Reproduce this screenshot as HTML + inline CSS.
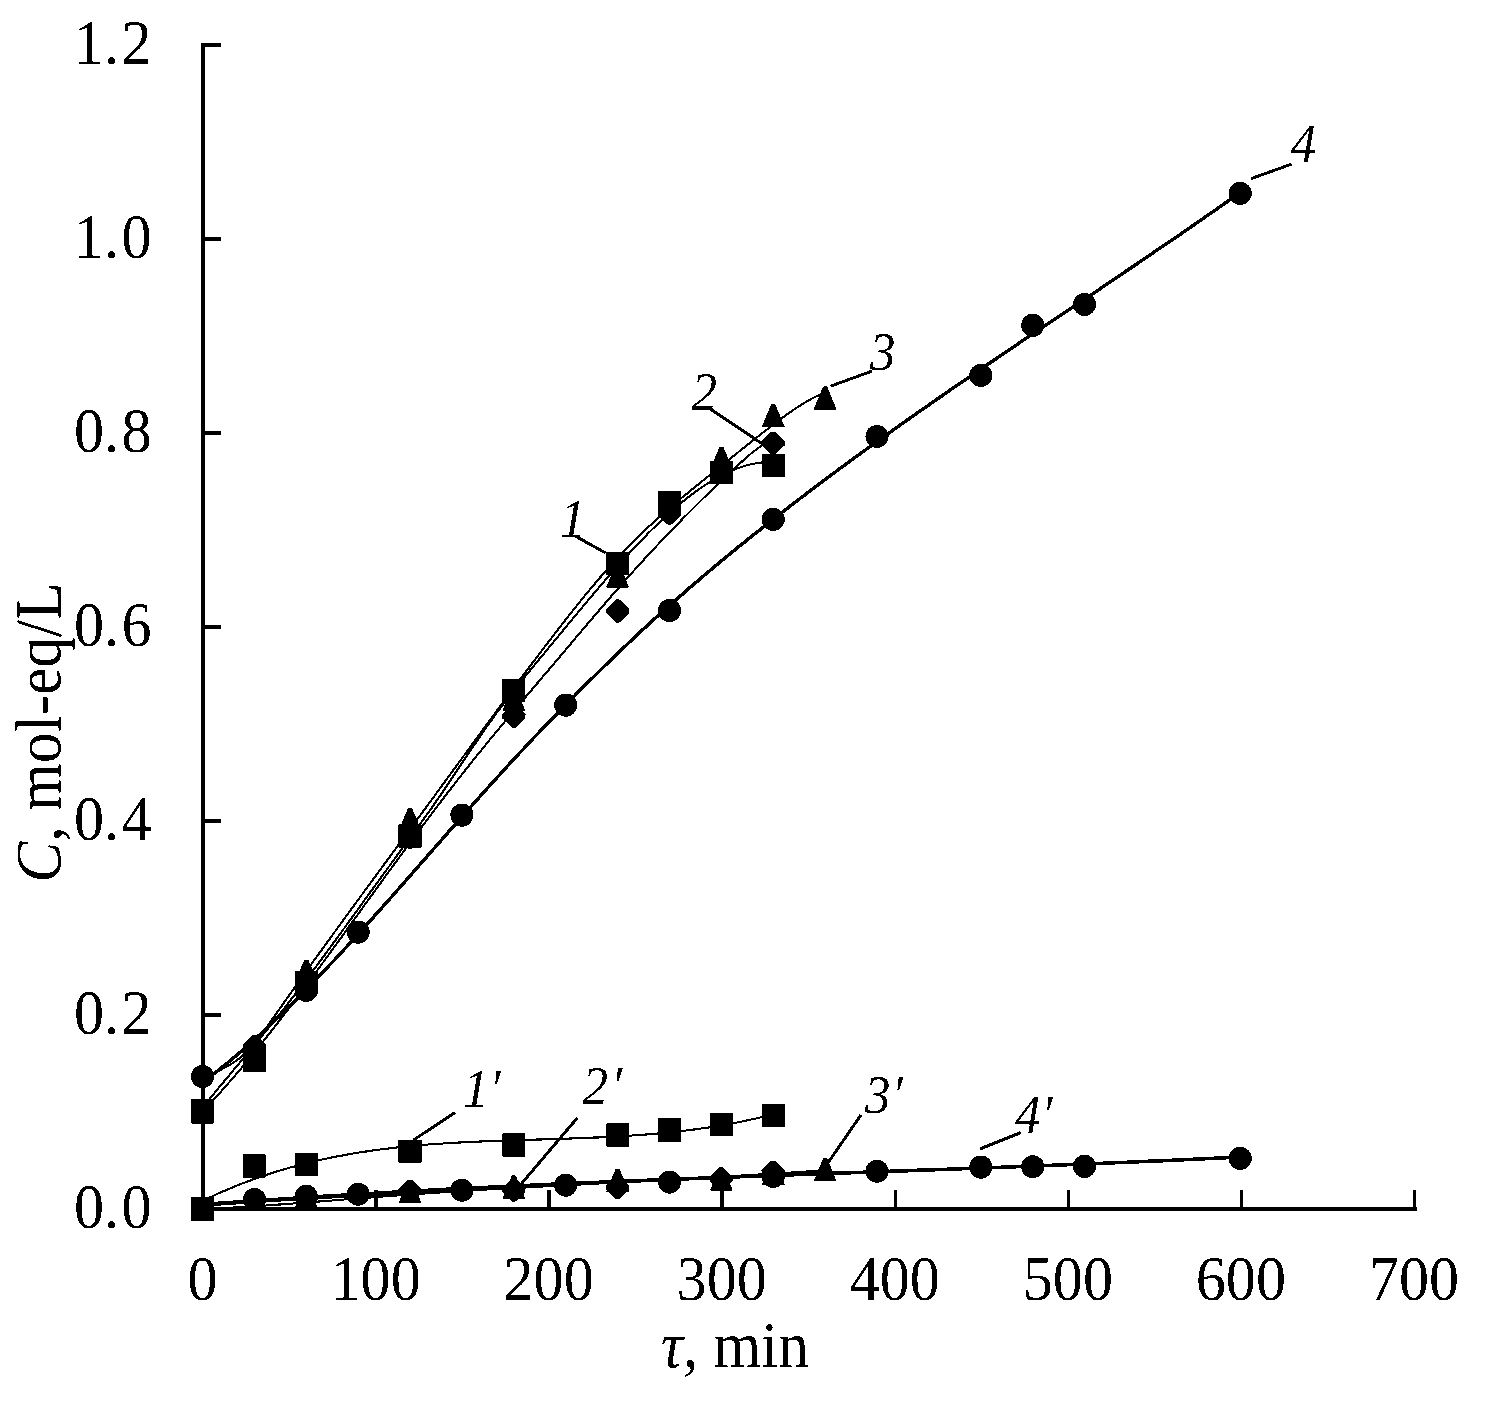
<!DOCTYPE html>
<html><head><meta charset="utf-8"><style>html,body{margin:0;padding:0;background:#fff}svg{display:block}</style></head>
<body><svg width="1485" height="1403" viewBox="0 0 1485 1403">
<defs><filter id="th" x="0" y="0" width="1485" height="1403" filterUnits="userSpaceOnUse"><feComponentTransfer><feFuncA type="discrete" tableValues="0 1"/></feComponentTransfer></filter></defs>
<rect width="1485" height="1403" fill="#fff"/>
<g filter="url(#th)">
<g stroke="#000" stroke-width="4" fill="none" shape-rendering="crispEdges">
<path d="M203 43 V1211 M201 1209 H1416.5"/>
</g>
<g stroke="#000" stroke-width="3.6" fill="none" shape-rendering="crispEdges">
<path d="M203 1209.0 H221"/>
<path d="M203 1015.0 H221"/>
<path d="M203 821.0 H221"/>
<path d="M203 627.0 H221"/>
<path d="M203 433.0 H221"/>
<path d="M203 239.0 H221"/>
<path d="M203 45.0 H221"/>
<path d="M376.1 1209 V1190"/>
<path d="M549.1 1209 V1190"/>
<path d="M722.2 1209 V1190"/>
<path d="M895.3 1209 V1190"/>
<path d="M1068.4 1209 V1190"/>
<path d="M1241.4 1209 V1190"/>
<path d="M1414.5 1209 V1190"/>
</g>
<g stroke="#000" fill="none" stroke-linejoin="round">
<path d="M203.0 1082.0 L206.0 1079.8 L209.0 1077.5 L212.0 1075.2 L215.0 1072.9 L218.0 1070.5 L221.0 1068.1 L224.0 1065.7 L227.0 1063.2 L230.0 1060.8 L233.0 1058.3 L236.0 1055.7 L239.0 1053.2 L242.0 1050.6 L245.0 1047.9 L248.0 1045.3 L251.0 1042.6 L254.0 1039.9 L257.0 1037.2 L260.0 1034.5 L263.0 1031.7 L266.0 1028.9 L269.0 1026.1 L272.0 1023.3 L275.0 1020.4 L278.0 1017.5 L281.0 1014.6 L284.0 1011.7 L287.0 1008.8 L290.0 1005.8 L293.0 1002.8 L296.0 999.8 L299.0 996.8 L302.0 993.8 L305.0 990.7 L308.0 987.6 L311.0 984.6 L314.0 981.4 L317.0 978.3 L320.0 975.2 L323.0 972.0 L326.0 968.9 L329.0 965.7 L332.0 962.5 L335.0 959.3 L338.0 956.0 L341.0 952.8 L344.0 949.6 L347.0 946.3 L350.0 943.0 L353.0 939.7 L356.0 936.5 L359.0 933.2 L362.0 929.8 L365.0 926.5 L368.0 923.2 L371.0 919.8 L374.0 916.5 L377.0 913.1 L380.0 909.8 L383.0 906.4 L386.0 903.0 L389.0 899.6 L392.0 896.3 L395.0 892.9 L398.0 889.5 L401.0 886.1 L404.0 882.7 L407.0 879.3 L410.0 875.8 L413.0 872.4 L416.0 869.0 L419.0 865.6 L422.0 862.2 L425.0 858.8 L428.0 855.3 L431.0 851.9 L434.0 848.5 L437.0 845.1 L440.0 841.7 L443.0 838.3 L446.0 834.8 L449.0 831.4 L452.0 828.0 L455.0 824.6 L458.0 821.2 L461.0 817.8 L464.0 814.4 L467.0 811.1 L470.0 807.7 L473.0 804.3 L476.0 800.9 L479.0 797.6 L482.0 794.2 L485.0 790.9 L488.0 787.5 L491.0 784.2 L494.0 780.9 L497.0 777.6 L500.0 774.3 L503.0 771.0 L506.0 767.7 L509.0 764.5 L512.0 761.2 L515.0 758.0 L518.0 754.7 L521.0 751.5 L524.0 748.3 L527.0 745.1 L530.0 741.9 L533.0 738.7 L536.0 735.6 L539.0 732.4 L542.0 729.3 L545.0 726.1 L548.0 723.0 L551.0 719.9 L554.0 716.8 L557.0 713.7 L560.0 710.6 L563.0 707.5 L566.0 704.5 L569.0 701.4 L572.0 698.4 L575.0 695.4 L578.0 692.3 L581.0 689.3 L584.0 686.3 L587.0 683.3 L590.0 680.3 L593.0 677.4 L596.0 674.4 L599.0 671.5 L602.0 668.5 L605.0 665.6 L608.0 662.7 L611.0 659.8 L614.0 656.9 L617.0 654.0 L620.0 651.1 L623.0 648.3 L626.0 645.4 L629.0 642.6 L632.0 639.8 L635.0 636.9 L638.0 634.1 L641.0 631.3 L644.0 628.6 L647.0 625.8 L650.0 623.1 L653.0 620.3 L656.0 617.6 L659.0 614.9 L662.0 612.2 L665.0 609.5 L668.0 606.8 L671.0 604.1 L674.0 601.5 L677.0 598.8 L680.0 596.2 L683.0 593.6 L686.0 591.0 L689.0 588.4 L692.0 585.8 L695.0 583.2 L698.0 580.6 L701.0 578.1 L704.0 575.5 L707.0 573.0 L710.0 570.5 L713.0 567.9 L716.0 565.4 L719.0 562.9 L722.0 560.4 L725.0 558.0 L728.0 555.5 L731.0 553.0 L734.0 550.6 L737.0 548.1 L740.0 545.7 L743.0 543.3 L746.0 540.9 L749.0 538.4 L752.0 536.0 L755.0 533.6 L758.0 531.3 L761.0 528.9 L764.0 526.5 L767.0 524.1 L770.0 521.8 L773.0 519.4 L776.0 517.1 L779.0 514.7 L782.0 512.4 L785.0 510.1 L788.0 507.8 L791.0 505.4 L794.0 503.1 L797.0 500.8 L800.0 498.5 L803.0 496.3 L806.0 494.0 L809.0 491.7 L812.0 489.4 L815.0 487.2 L818.0 484.9 L821.0 482.6 L824.0 480.4 L827.0 478.2 L830.0 475.9 L833.0 473.7 L836.0 471.5 L839.0 469.2 L842.0 467.0 L845.0 464.8 L848.0 462.6 L851.0 460.4 L854.0 458.2 L857.0 456.0 L860.0 453.9 L863.0 451.7 L866.0 449.5 L869.0 447.3 L872.0 445.2 L875.0 443.0 L878.0 440.8 L881.0 438.7 L884.0 436.5 L887.0 434.4 L890.0 432.3 L893.0 430.1 L896.0 428.0 L899.0 425.9 L902.0 423.7 L905.0 421.6 L908.0 419.5 L911.0 417.4 L914.0 415.3 L917.0 413.2 L920.0 411.1 L923.0 409.0 L926.0 406.9 L929.0 404.8 L932.0 402.7 L935.0 400.6 L938.0 398.5 L941.0 396.5 L944.0 394.4 L947.0 392.3 L950.0 390.2 L953.0 388.2 L956.0 386.1 L959.0 384.0 L962.0 382.0 L965.0 379.9 L968.0 377.9 L971.0 375.8 L974.0 373.8 L977.0 371.7 L980.0 369.7 L983.0 367.6 L986.0 365.6 L989.0 363.5 L992.0 361.5 L995.0 359.5 L998.0 357.4 L1001.0 355.4 L1004.0 353.4 L1007.0 351.3 L1010.0 349.3 L1013.0 347.3 L1016.0 345.3 L1019.0 343.2 L1022.0 341.2 L1025.0 339.2 L1028.0 337.2 L1031.0 335.1 L1034.0 333.1 L1037.0 331.1 L1040.0 329.1 L1043.0 327.1 L1046.0 325.0 L1049.0 323.0 L1052.0 321.0 L1055.0 319.0 L1058.0 317.0 L1061.0 315.0 L1064.0 313.0 L1067.0 310.9 L1070.0 308.9 L1073.0 306.9 L1076.0 304.9 L1079.0 302.9 L1082.0 300.9 L1085.0 298.8 L1088.0 296.8 L1091.0 294.8 L1094.0 292.8 L1097.0 290.8 L1100.0 288.8 L1103.0 286.7 L1106.0 284.7 L1109.0 282.7 L1112.0 280.7 L1115.0 278.7 L1118.0 276.6 L1121.0 274.6 L1124.0 272.6 L1127.0 270.5 L1130.0 268.5 L1133.0 266.5 L1136.0 264.5 L1139.0 262.4 L1142.0 260.4 L1145.0 258.4 L1148.0 256.3 L1151.0 254.3 L1154.0 252.2 L1157.0 250.2 L1160.0 248.1 L1163.0 246.1 L1166.0 244.0 L1169.0 242.0 L1172.0 239.9 L1175.0 237.9 L1178.0 235.8 L1181.0 233.8 L1184.0 231.7 L1187.0 229.6 L1190.0 227.6 L1193.0 225.5 L1196.0 223.4 L1199.0 221.3 L1202.0 219.3 L1205.0 217.2 L1208.0 215.1 L1211.0 213.0 L1214.0 210.9 L1217.0 208.8 L1220.0 206.7 L1223.0 204.6 L1226.0 202.5 L1229.0 200.4 L1232.0 198.3 L1235.0 196.1 L1238.0 194.0 L1241.0 191.9" stroke-width="3.4"/>
<path d="M203.0 1107.0 L206.0 1103.3 L209.0 1099.6 L212.0 1096.0 L215.0 1092.3 L218.0 1088.7 L221.0 1085.1 L224.0 1081.5 L227.0 1077.9 L230.0 1074.3 L233.0 1070.7 L236.0 1067.2 L239.0 1063.6 L242.0 1060.0 L245.0 1056.4 L248.0 1052.8 L251.0 1049.2 L254.0 1045.6 L257.0 1042.0 L260.0 1038.3 L263.0 1034.7 L266.0 1031.0 L269.0 1027.3 L272.0 1023.6 L275.0 1019.9 L278.0 1016.1 L281.0 1012.4 L284.0 1008.6 L287.0 1004.7 L290.0 1000.9 L293.0 997.0 L296.0 993.1 L299.0 989.2 L302.0 985.2 L305.0 981.3 L308.0 977.3 L311.0 973.3 L314.0 969.3 L317.0 965.3 L320.0 961.2 L323.0 957.2 L326.0 953.1 L329.0 949.0 L332.0 944.9 L335.0 940.8 L338.0 936.7 L341.0 932.6 L344.0 928.5 L347.0 924.4 L350.0 920.2 L353.0 916.1 L356.0 912.0 L359.0 907.8 L362.0 903.7 L365.0 899.5 L368.0 895.4 L371.0 891.2 L374.0 887.1 L377.0 883.0 L380.0 878.8 L383.0 874.7 L386.0 870.6 L389.0 866.5 L392.0 862.4 L395.0 858.3 L398.0 854.2 L401.0 850.1 L404.0 846.0 L407.0 841.9 L410.0 837.9 L413.0 833.8 L416.0 829.6 L419.0 825.5 L422.0 821.4 L425.0 817.2 L428.0 813.0 L431.0 808.8 L434.0 804.5 L437.0 800.2 L440.0 795.8 L443.0 791.4 L446.0 787.0 L449.0 782.6 L452.0 778.1 L455.0 773.6 L458.0 769.1 L461.0 764.6 L464.0 760.1 L467.0 755.6 L470.0 751.1 L473.0 746.7 L476.0 742.3 L479.0 737.9 L482.0 733.5 L485.0 729.2 L488.0 725.0 L491.0 720.8 L494.0 716.6 L497.0 712.5 L500.0 708.5 L503.0 704.5 L506.0 700.6 L509.0 696.7 L512.0 692.9 L515.0 689.1 L518.0 685.3 L521.0 681.5 L524.0 677.8 L527.0 674.1 L530.0 670.5 L533.0 666.8 L536.0 663.2 L539.0 659.5 L542.0 655.9 L545.0 652.3 L548.0 648.7 L551.0 645.0 L554.0 641.4 L557.0 637.8 L560.0 634.1 L563.0 630.5 L566.0 626.8 L569.0 623.2 L572.0 619.6 L575.0 616.0 L578.0 612.4 L581.0 608.8 L584.0 605.2 L587.0 601.6 L590.0 598.0 L593.0 594.5 L596.0 590.9 L599.0 587.4 L602.0 583.9 L605.0 580.4 L608.0 577.0 L611.0 573.6 L614.0 570.1 L617.0 566.8 L620.0 563.4 L623.0 560.1 L626.0 556.8 L629.0 553.5 L632.0 550.3 L635.0 547.1 L638.0 543.9 L641.0 540.7 L644.0 537.7 L647.0 534.6 L650.0 531.6 L653.0 528.6 L656.0 525.7 L659.0 522.8 L662.0 519.9 L665.0 517.1 L668.0 514.4 L671.0 511.7 L674.0 509.0 L677.0 506.4 L680.0 503.9 L683.0 501.4 L686.0 499.0 L689.0 496.6 L692.0 494.3 L695.0 492.1 L698.0 489.9 L701.0 487.8 L704.0 485.8 L707.0 483.8 L710.0 481.9 L713.0 480.1 L716.0 478.3 L719.0 476.7 L722.0 475.1 L725.0 473.6 L728.0 472.2 L731.0 470.8 L734.0 469.6 L737.0 468.4 L740.0 467.4 L743.0 466.4 L746.0 465.5 L749.0 464.7 L752.0 464.0 L755.0 463.5 L758.0 463.0 L761.0 462.6 L764.0 462.3 L767.0 462.1 L770.0 462.1 L772.0 462.1" stroke-width="2.1"/>
<path d="M203.0 1111.0 L206.0 1107.9 L209.0 1104.7 L212.0 1101.5 L215.0 1098.2 L218.0 1094.9 L221.0 1091.6 L224.0 1088.2 L227.0 1084.8 L230.0 1081.4 L233.0 1077.9 L236.0 1074.4 L239.0 1070.9 L242.0 1067.3 L245.0 1063.7 L248.0 1060.1 L251.0 1056.4 L254.0 1052.8 L257.0 1049.1 L260.0 1045.3 L263.0 1041.6 L266.0 1037.8 L269.0 1034.0 L272.0 1030.2 L275.0 1026.3 L278.0 1022.5 L281.0 1018.6 L284.0 1014.7 L287.0 1010.8 L290.0 1006.8 L293.0 1002.9 L296.0 998.9 L299.0 994.9 L302.0 990.9 L305.0 986.9 L308.0 982.8 L311.0 978.8 L314.0 974.7 L317.0 970.7 L320.0 966.6 L323.0 962.5 L326.0 958.4 L329.0 954.3 L332.0 950.2 L335.0 946.0 L338.0 941.9 L341.0 937.8 L344.0 933.6 L347.0 929.5 L350.0 925.3 L353.0 921.2 L356.0 917.0 L359.0 912.9 L362.0 908.7 L365.0 904.5 L368.0 900.4 L371.0 896.2 L374.0 892.1 L377.0 887.9 L380.0 883.8 L383.0 879.7 L386.0 875.5 L389.0 871.4 L392.0 867.3 L395.0 863.2 L398.0 859.1 L401.0 855.0 L404.0 850.9 L407.0 846.8 L410.0 842.7 L413.0 838.7 L416.0 834.7 L419.0 830.6 L422.0 826.6 L425.0 822.6 L428.0 818.6 L431.0 814.6 L434.0 810.6 L437.0 806.7 L440.0 802.8 L443.0 798.8 L446.0 794.9 L449.0 791.0 L452.0 787.1 L455.0 783.3 L458.0 779.4 L461.0 775.6 L464.0 771.8 L467.0 768.0 L470.0 764.2 L473.0 760.4 L476.0 756.7 L479.0 753.0 L482.0 749.3 L485.0 745.6 L488.0 741.9 L491.0 738.2 L494.0 734.6 L497.0 731.0 L500.0 727.4 L503.0 723.8 L506.0 720.2 L509.0 716.6 L512.0 713.1 L515.0 709.5 L518.0 706.0 L521.0 702.4 L524.0 698.9 L527.0 695.4 L530.0 691.8 L533.0 688.3 L536.0 684.8 L539.0 681.3 L542.0 677.7 L545.0 674.2 L548.0 670.7 L551.0 667.1 L554.0 663.6 L557.0 660.0 L560.0 656.5 L563.0 652.9 L566.0 649.4 L569.0 645.8 L572.0 642.3 L575.0 638.7 L578.0 635.2 L581.0 631.6 L584.0 628.1 L587.0 624.5 L590.0 621.0 L593.0 617.5 L596.0 614.0 L599.0 610.5 L602.0 607.0 L605.0 603.5 L608.0 600.0 L611.0 596.5 L614.0 593.1 L617.0 589.7 L620.0 586.2 L623.0 582.8 L626.0 579.4 L629.0 576.1 L632.0 572.7 L635.0 569.4 L638.0 566.1 L641.0 562.8 L644.0 559.5 L647.0 556.2 L650.0 553.0 L653.0 549.8 L656.0 546.6 L659.0 543.4 L662.0 540.2 L665.0 537.1 L668.0 533.9 L671.0 530.8 L674.0 527.7 L677.0 524.7 L680.0 521.6 L683.0 518.5 L686.0 515.5 L689.0 512.5 L692.0 509.5 L695.0 506.5 L698.0 503.5 L701.0 500.6 L704.0 497.6 L707.0 494.7 L710.0 491.8 L713.0 488.9 L716.0 486.0 L719.0 483.1 L722.0 480.2 L725.0 477.4 L728.0 474.5 L731.0 471.7 L734.0 468.9 L737.0 466.1 L740.0 463.3 L743.0 460.6 L746.0 457.9 L749.0 455.3 L752.0 452.8 L755.0 450.5 L758.0 448.2 L761.0 446.1 L764.0 444.2 L767.0 442.4 L770.0 440.9" stroke-width="2.1"/>
<path d="M203.0 1079.0 L206.0 1077.2 L209.0 1075.6 L212.0 1074.1 L215.0 1072.6 L218.0 1071.1 L221.0 1069.6 L224.0 1068.1 L227.0 1066.5 L230.0 1064.8 L233.0 1062.9 L236.0 1060.9 L239.0 1058.7 L242.0 1056.2 L245.0 1053.4 L248.0 1050.4 L251.0 1047.1 L254.0 1043.6 L257.0 1040.0 L260.0 1036.1 L263.0 1032.2 L266.0 1028.1 L269.0 1023.9 L272.0 1019.7 L275.0 1015.4 L278.0 1011.1 L281.0 1006.9 L284.0 1002.6 L287.0 998.4 L290.0 994.1 L293.0 989.9 L296.0 985.7 L299.0 981.5 L302.0 977.3 L305.0 973.1 L308.0 968.9 L311.0 964.7 L314.0 960.5 L317.0 956.4 L320.0 952.2 L323.0 948.1 L326.0 943.9 L329.0 939.8 L332.0 935.6 L335.0 931.5 L338.0 927.4 L341.0 923.3 L344.0 919.2 L347.0 915.0 L350.0 910.9 L353.0 906.8 L356.0 902.7 L359.0 898.6 L362.0 894.5 L365.0 890.4 L368.0 886.4 L371.0 882.3 L374.0 878.2 L377.0 874.1 L380.0 870.0 L383.0 865.9 L386.0 861.9 L389.0 857.8 L392.0 853.7 L395.0 849.6 L398.0 845.5 L401.0 841.5 L404.0 837.4 L407.0 833.3 L410.0 829.2 L413.0 825.2 L416.0 821.1 L419.0 817.0 L422.0 812.9 L425.0 808.8 L428.0 804.7 L431.0 800.6 L434.0 796.5 L437.0 792.4 L440.0 788.3 L443.0 784.2 L446.0 780.1 L449.0 776.0 L452.0 771.9 L455.0 767.8 L458.0 763.7 L461.0 759.6 L464.0 755.5 L467.0 751.4 L470.0 747.3 L473.0 743.2 L476.0 739.1 L479.0 735.0 L482.0 730.9 L485.0 726.8 L488.0 722.7 L491.0 718.7 L494.0 714.6 L497.0 710.5 L500.0 706.5 L503.0 702.4 L506.0 698.3 L509.0 694.3 L512.0 690.3 L515.0 686.2 L518.0 682.2 L521.0 678.2 L524.0 674.2 L527.0 670.2 L530.0 666.2 L533.0 662.2 L536.0 658.3 L539.0 654.3 L542.0 650.3 L545.0 646.4 L548.0 642.5 L551.0 638.6 L554.0 634.7 L557.0 630.8 L560.0 626.9 L563.0 623.1 L566.0 619.2 L569.0 615.4 L572.0 611.6 L575.0 607.9 L578.0 604.1 L581.0 600.4 L584.0 596.7 L587.0 593.1 L590.0 589.4 L593.0 585.8 L596.0 582.3 L599.0 578.8 L602.0 575.3 L605.0 571.8 L608.0 568.4 L611.0 565.0 L614.0 561.7 L617.0 558.5 L620.0 555.2 L623.0 552.0 L626.0 548.9 L629.0 545.8 L632.0 542.8 L635.0 539.8 L638.0 536.9 L641.0 534.0 L644.0 531.1 L647.0 528.3 L650.0 525.5 L653.0 522.7 L656.0 520.0 L659.0 517.3 L662.0 514.7 L665.0 512.1 L668.0 509.5 L671.0 506.9 L674.0 504.4 L677.0 501.8 L680.0 499.3 L683.0 496.8 L686.0 494.4 L689.0 491.9 L692.0 489.4 L695.0 487.0 L698.0 484.6 L701.0 482.1 L704.0 479.7 L707.0 477.3 L710.0 474.9 L713.0 472.5 L716.0 470.0 L719.0 467.6 L722.0 465.2 L725.0 462.8 L728.0 460.4 L731.0 458.0 L734.0 455.6 L737.0 453.2 L740.0 450.8 L743.0 448.4 L746.0 446.0 L749.0 443.6 L752.0 441.2 L755.0 438.9 L758.0 436.5 L761.0 434.2 L764.0 431.8 L767.0 429.5 L770.0 427.2 L773.0 424.9 L776.0 422.6 L779.0 420.3 L782.0 418.1 L785.0 415.9 L788.0 413.7 L791.0 411.6 L794.0 409.5 L797.0 407.5 L800.0 405.6 L803.0 403.7 L806.0 401.9 L809.0 400.2 L812.0 398.6 L815.0 397.0 L818.0 395.6 L821.0 394.2 L822.8 393.5" stroke-width="2.1"/>
<path d="M203.0 1200.7 L206.0 1199.2 L209.0 1197.8 L212.0 1196.4 L215.0 1195.0 L218.0 1193.6 L221.0 1192.3 L224.0 1191.0 L227.0 1189.7 L230.0 1188.4 L233.0 1187.2 L236.0 1185.9 L239.0 1184.7 L242.0 1183.6 L245.0 1182.4 L248.0 1181.3 L251.0 1180.2 L254.0 1179.1 L257.0 1178.0 L260.0 1176.9 L263.0 1175.9 L266.0 1174.9 L269.0 1173.9 L272.0 1173.0 L275.0 1172.0 L278.0 1171.1 L281.0 1170.2 L284.0 1169.3 L287.0 1168.4 L290.0 1167.5 L293.0 1166.7 L296.0 1165.9 L299.0 1165.1 L302.0 1164.3 L305.0 1163.5 L308.0 1162.8 L311.0 1162.1 L314.0 1161.4 L317.0 1160.7 L320.0 1160.0 L323.0 1159.3 L326.0 1158.7 L329.0 1158.0 L332.0 1157.4 L335.0 1156.8 L338.0 1156.2 L341.0 1155.7 L344.0 1155.1 L347.0 1154.6 L350.0 1154.0 L353.0 1153.5 L356.0 1153.0 L359.0 1152.5 L362.0 1152.1 L365.0 1151.6 L368.0 1151.1 L371.0 1150.7 L374.0 1150.3 L377.0 1149.9 L380.0 1149.5 L383.0 1149.1 L386.0 1148.7 L389.0 1148.4 L392.0 1148.0 L395.0 1147.7 L398.0 1147.3 L401.0 1147.0 L404.0 1146.7 L407.0 1146.4 L410.0 1146.1 L413.0 1145.8 L416.0 1145.5 L419.0 1145.3 L422.0 1145.0 L425.0 1144.8 L428.0 1144.5 L431.0 1144.3 L434.0 1144.1 L437.0 1143.9 L440.0 1143.7 L443.0 1143.5 L446.0 1143.3 L449.0 1143.1 L452.0 1142.9 L455.0 1142.7 L458.0 1142.5 L461.0 1142.4 L464.0 1142.2 L467.0 1142.1 L470.0 1141.9 L473.0 1141.8 L476.0 1141.7 L479.0 1141.5 L482.0 1141.4 L485.0 1141.3 L488.0 1141.2 L491.0 1141.0 L494.0 1140.9 L497.0 1140.8 L500.0 1140.7 L503.0 1140.6 L506.0 1140.5 L509.0 1140.4 L512.0 1140.3 L515.0 1140.2 L518.0 1140.1 L521.0 1140.0 L524.0 1139.9 L527.0 1139.8 L530.0 1139.8 L533.0 1139.7 L536.0 1139.6 L539.0 1139.5 L542.0 1139.4 L545.0 1139.3 L548.0 1139.2 L551.0 1139.1 L554.0 1139.0 L557.0 1138.9 L560.0 1138.9 L563.0 1138.8 L566.0 1138.7 L569.0 1138.6 L572.0 1138.5 L575.0 1138.3 L578.0 1138.2 L581.0 1138.1 L584.0 1138.0 L587.0 1137.9 L590.0 1137.8 L593.0 1137.6 L596.0 1137.5 L599.0 1137.4 L602.0 1137.2 L605.0 1137.1 L608.0 1136.9 L611.0 1136.8 L614.0 1136.6 L617.0 1136.5 L620.0 1136.3 L623.0 1136.1 L626.0 1135.9 L629.0 1135.7 L632.0 1135.5 L635.0 1135.3 L638.0 1135.1 L641.0 1134.9 L644.0 1134.7 L647.0 1134.4 L650.0 1134.2 L653.0 1133.9 L656.0 1133.7 L659.0 1133.4 L662.0 1133.1 L665.0 1132.8 L668.0 1132.5 L671.0 1132.2 L674.0 1131.9 L677.0 1131.6 L680.0 1131.2 L683.0 1130.9 L686.0 1130.5 L689.0 1130.1 L692.0 1129.8 L695.0 1129.4 L698.0 1129.0 L701.0 1128.5 L704.0 1128.1 L707.0 1127.7 L710.0 1127.2 L713.0 1126.7 L716.0 1126.3 L719.0 1125.8 L722.0 1125.2 L725.0 1124.7 L728.0 1124.2 L731.0 1123.6 L734.0 1123.1 L737.0 1122.5 L740.0 1121.9 L743.0 1121.3 L746.0 1120.6 L749.0 1120.0 L752.0 1119.3 L755.0 1118.7 L758.0 1118.0 L761.0 1117.3 L764.0 1116.5 L767.0 1115.8 L770.0 1115.0 L773.0 1114.3" stroke-width="2.1"/>
<path d="M203.0 1204.5 L206.0 1204.2 L209.0 1204.0 L212.0 1203.8 L215.0 1203.6 L218.0 1203.3 L221.0 1203.1 L224.0 1202.9 L227.0 1202.7 L230.0 1202.5 L233.0 1202.3 L236.0 1202.0 L239.0 1201.8 L242.0 1201.6 L245.0 1201.4 L248.0 1201.2 L251.0 1201.0 L254.0 1200.8 L257.0 1200.6 L260.0 1200.4 L263.0 1200.2 L266.0 1200.0 L269.0 1199.8 L272.0 1199.6 L275.0 1199.4 L278.0 1199.2 L281.0 1199.0 L284.0 1198.8 L287.0 1198.6 L290.0 1198.4 L293.0 1198.2 L296.0 1198.0 L299.0 1197.8 L302.0 1197.6 L305.0 1197.4 L308.0 1197.2 L311.0 1197.0 L314.0 1196.8 L317.0 1196.6 L320.0 1196.5 L323.0 1196.3 L326.0 1196.1 L329.0 1195.9 L332.0 1195.7 L335.0 1195.5 L338.0 1195.4 L341.0 1195.2 L344.0 1195.0 L347.0 1194.8 L350.0 1194.6 L353.0 1194.5 L356.0 1194.3 L359.0 1194.1 L362.0 1193.9 L365.0 1193.8 L368.0 1193.6 L371.0 1193.4 L374.0 1193.2 L377.0 1193.1 L380.0 1192.9 L383.0 1192.7 L386.0 1192.6 L389.0 1192.4 L392.0 1192.2 L395.0 1192.1 L398.0 1191.9 L401.0 1191.7 L404.0 1191.6 L407.0 1191.4 L410.0 1191.2 L413.0 1191.1 L416.0 1190.9 L419.0 1190.8 L422.0 1190.6 L425.0 1190.4 L428.0 1190.3 L431.0 1190.1 L434.0 1190.0 L437.0 1189.8 L440.0 1189.6 L443.0 1189.5 L446.0 1189.3 L449.0 1189.2 L452.0 1189.0 L455.0 1188.9 L458.0 1188.7 L461.0 1188.6 L464.0 1188.4 L467.0 1188.3 L470.0 1188.1 L473.0 1188.0 L476.0 1187.8 L479.0 1187.7 L482.0 1187.5 L485.0 1187.4 L488.0 1187.2 L491.0 1187.1 L494.0 1187.0 L497.0 1186.8 L500.0 1186.7 L503.0 1186.5 L506.0 1186.4 L509.0 1186.2 L512.0 1186.1 L515.0 1186.0 L518.0 1185.8 L521.0 1185.7 L524.0 1185.5 L527.0 1185.4 L530.0 1185.3 L533.0 1185.1 L536.0 1185.0 L539.0 1184.9 L542.0 1184.7 L545.0 1184.6 L548.0 1184.5 L551.0 1184.3 L554.0 1184.2 L557.0 1184.1 L560.0 1183.9 L563.0 1183.8 L566.0 1183.7 L569.0 1183.5 L572.0 1183.4 L575.0 1183.3 L578.0 1183.1 L581.0 1183.0 L584.0 1182.9 L587.0 1182.8 L590.0 1182.6 L593.0 1182.5 L596.0 1182.4 L599.0 1182.3 L602.0 1182.1 L605.0 1182.0 L608.0 1181.9 L611.0 1181.8 L614.0 1181.6 L617.0 1181.5 L620.0 1181.4 L623.0 1181.3 L626.0 1181.1 L629.0 1181.0 L632.0 1180.9 L635.0 1180.8 L638.0 1180.7 L641.0 1180.5 L644.0 1180.4 L647.0 1180.3 L650.0 1180.2 L653.0 1180.1 L656.0 1179.9 L659.0 1179.8 L662.0 1179.7 L665.0 1179.6 L668.0 1179.5 L671.0 1179.3 L674.0 1179.2 L677.0 1179.1 L680.0 1179.0 L683.0 1178.9 L686.0 1178.8 L689.0 1178.7 L692.0 1178.5 L695.0 1178.4 L698.0 1178.3 L701.0 1178.2 L704.0 1178.1 L707.0 1178.0 L710.0 1177.9 L713.0 1177.7 L716.0 1177.6 L719.0 1177.5 L722.0 1177.4 L725.0 1177.3 L728.0 1177.2 L731.0 1177.1 L734.0 1176.9 L737.0 1176.8 L740.0 1176.7 L743.0 1176.6 L746.0 1176.5 L749.0 1176.4 L752.0 1176.3 L755.0 1176.2 L758.0 1176.1 L761.0 1176.0 L764.0 1175.8 L767.0 1175.7 L770.0 1175.6 L773.0 1175.5 L776.0 1175.4 L779.0 1175.3 L782.0 1175.2 L785.0 1175.1 L788.0 1175.0 L791.0 1174.9 L794.0 1174.8 L797.0 1174.6 L800.0 1174.5 L803.0 1174.4 L806.0 1174.3 L809.0 1174.2 L812.0 1174.1 L815.0 1174.0 L818.0 1173.9 L821.0 1173.8 L824.0 1173.7 L827.0 1173.6 L830.0 1173.5 L833.0 1173.3 L836.0 1173.2 L839.0 1173.1 L842.0 1173.0 L845.0 1172.9 L848.0 1172.8 L851.0 1172.7 L854.0 1172.6 L857.0 1172.5 L860.0 1172.4 L863.0 1172.3 L866.0 1172.2 L869.0 1172.1 L872.0 1171.9 L875.0 1171.8 L878.0 1171.7 L881.0 1171.6 L884.0 1171.5 L887.0 1171.4 L890.0 1171.3 L893.0 1171.2 L896.0 1171.1 L899.0 1171.0 L902.0 1170.9 L905.0 1170.8 L908.0 1170.7 L911.0 1170.5 L914.0 1170.4 L917.0 1170.3 L920.0 1170.2 L923.0 1170.1 L926.0 1170.0 L929.0 1169.9 L932.0 1169.8 L935.0 1169.7 L938.0 1169.6 L941.0 1169.5 L944.0 1169.4 L947.0 1169.2 L950.0 1169.1 L953.0 1169.0 L956.0 1168.9 L959.0 1168.8 L962.0 1168.7 L965.0 1168.6 L968.0 1168.5 L971.0 1168.4 L974.0 1168.2 L977.0 1168.1 L980.0 1168.0 L983.0 1167.9 L986.0 1167.8 L989.0 1167.7 L992.0 1167.6 L995.0 1167.5 L998.0 1167.4 L1001.0 1167.2 L1004.0 1167.1 L1007.0 1167.0 L1010.0 1166.9 L1013.0 1166.8 L1016.0 1166.7 L1019.0 1166.6 L1022.0 1166.4 L1025.0 1166.3 L1028.0 1166.2 L1031.0 1166.1 L1034.0 1166.0 L1037.0 1165.9 L1040.0 1165.8 L1043.0 1165.6 L1046.0 1165.5 L1049.0 1165.4 L1052.0 1165.3 L1055.0 1165.2 L1058.0 1165.0 L1061.0 1164.9 L1064.0 1164.8 L1067.0 1164.7 L1070.0 1164.6 L1073.0 1164.5 L1076.0 1164.3 L1079.0 1164.2 L1082.0 1164.1 L1085.0 1164.0 L1088.0 1163.8 L1091.0 1163.7 L1094.0 1163.6 L1097.0 1163.5 L1100.0 1163.4 L1103.0 1163.2 L1106.0 1163.1 L1109.0 1163.0 L1112.0 1162.9 L1115.0 1162.7 L1118.0 1162.6 L1121.0 1162.5 L1124.0 1162.4 L1127.0 1162.2 L1130.0 1162.1 L1133.0 1162.0 L1136.0 1161.8 L1139.0 1161.7 L1142.0 1161.6 L1145.0 1161.5 L1148.0 1161.3 L1151.0 1161.2 L1154.0 1161.1 L1157.0 1160.9 L1160.0 1160.8 L1163.0 1160.7 L1166.0 1160.5 L1169.0 1160.4 L1172.0 1160.3 L1175.0 1160.1 L1178.0 1160.0 L1181.0 1159.9 L1184.0 1159.7 L1187.0 1159.6 L1190.0 1159.5 L1193.0 1159.3 L1196.0 1159.2 L1199.0 1159.0 L1202.0 1158.9 L1205.0 1158.8 L1208.0 1158.6 L1211.0 1158.5 L1214.0 1158.3 L1217.0 1158.2 L1220.0 1158.1 L1223.0 1157.9 L1226.0 1157.8 L1229.0 1157.6 L1232.0 1157.5 L1235.0 1157.3 L1238.0 1157.2 L1241.0 1157.0" stroke-width="3.4"/>
<path d="M203.0 1205.7 L206.0 1205.5 L209.0 1205.3 L212.0 1205.0 L215.0 1204.8 L218.0 1204.6 L221.0 1204.4 L224.0 1204.2 L227.0 1204.0 L230.0 1203.8 L233.0 1203.6 L236.0 1203.4 L239.0 1203.2 L242.0 1203.0 L245.0 1202.8 L248.0 1202.6 L251.0 1202.4 L254.0 1202.2 L257.0 1202.0 L260.0 1201.8 L263.0 1201.6 L266.0 1201.4 L269.0 1201.2 L272.0 1201.0 L275.0 1200.8 L278.0 1200.6 L281.0 1200.5 L284.0 1200.3 L287.0 1200.1 L290.0 1199.9 L293.0 1199.7 L296.0 1199.5 L299.0 1199.3 L302.0 1199.2 L305.0 1199.0 L308.0 1198.8 L311.0 1198.6 L314.0 1198.4 L317.0 1198.3 L320.0 1198.1 L323.0 1197.9 L326.0 1197.7 L329.0 1197.6 L332.0 1197.4 L335.0 1197.2 L338.0 1197.0 L341.0 1196.9 L344.0 1196.7 L347.0 1196.5 L350.0 1196.4 L353.0 1196.2 L356.0 1196.0 L359.0 1195.9 L362.0 1195.7 L365.0 1195.5 L368.0 1195.4 L371.0 1195.2 L374.0 1195.0 L377.0 1194.9 L380.0 1194.7 L383.0 1194.5 L386.0 1194.4 L389.0 1194.2 L392.0 1194.1 L395.0 1193.9 L398.0 1193.7 L401.0 1193.6 L404.0 1193.4 L407.0 1193.3 L410.0 1193.1 L413.0 1192.9 L416.0 1192.8 L419.0 1192.6 L422.0 1192.5 L425.0 1192.3 L428.0 1192.2 L431.0 1192.0 L434.0 1191.8 L437.0 1191.7 L440.0 1191.5 L443.0 1191.4 L446.0 1191.2 L449.0 1191.1 L452.0 1190.9 L455.0 1190.8 L458.0 1190.6 L461.0 1190.5 L464.0 1190.3 L467.0 1190.2 L470.0 1190.0 L473.0 1189.9 L476.0 1189.7 L479.0 1189.6 L482.0 1189.4 L485.0 1189.2 L488.0 1189.1 L491.0 1188.9 L494.0 1188.8 L497.0 1188.6 L500.0 1188.5 L503.0 1188.3 L506.0 1188.2 L509.0 1188.0 L512.0 1187.9 L515.0 1187.7 L518.0 1187.6 L521.0 1187.4 L524.0 1187.3 L527.0 1187.1 L530.0 1187.0 L533.0 1186.8 L536.0 1186.7 L539.0 1186.5 L542.0 1186.4 L545.0 1186.2 L548.0 1186.1 L551.0 1185.9 L554.0 1185.8 L557.0 1185.6 L560.0 1185.5 L563.0 1185.3 L566.0 1185.2 L569.0 1185.0 L572.0 1184.9 L575.0 1184.7 L578.0 1184.6 L581.0 1184.4 L584.0 1184.3 L587.0 1184.1 L590.0 1184.0 L593.0 1183.8 L596.0 1183.7 L599.0 1183.5 L602.0 1183.3 L605.0 1183.2 L608.0 1183.0 L611.0 1182.9 L614.0 1182.7 L617.0 1182.6 L620.0 1182.4 L623.0 1182.3 L626.0 1182.1 L629.0 1181.9 L632.0 1181.8 L635.0 1181.6 L638.0 1181.5 L641.0 1181.3 L644.0 1181.2 L647.0 1181.0 L650.0 1180.8 L653.0 1180.7 L656.0 1180.5 L659.0 1180.3 L662.0 1180.2 L665.0 1180.0 L668.0 1179.9 L671.0 1179.7 L674.0 1179.5 L677.0 1179.4 L680.0 1179.2 L683.0 1179.0 L686.0 1178.9 L689.0 1178.7 L692.0 1178.5 L695.0 1178.4 L698.0 1178.2 L701.0 1178.0 L704.0 1177.8 L707.0 1177.7 L710.0 1177.5 L713.0 1177.3 L716.0 1177.2 L719.0 1177.0 L722.0 1176.8 L725.0 1176.6 L728.0 1176.4 L731.0 1176.3 L734.0 1176.1 L737.0 1175.9 L740.0 1175.7 L743.0 1175.5 L746.0 1175.4 L749.0 1175.2 L752.0 1175.0 L755.0 1174.8 L758.0 1174.6 L761.0 1174.4 L764.0 1174.3 L767.0 1174.1 L770.0 1173.9 L773.0 1173.7 L776.0 1173.5 L779.0 1173.3 L782.0 1173.1 L785.0 1172.9 L788.0 1172.7 L791.0 1172.5 L794.0 1172.3 L797.0 1172.1 L800.0 1171.9 L803.0 1171.7 L806.0 1171.5 L809.0 1171.3 L812.0 1171.1 L815.0 1170.9 L818.0 1170.7 L821.0 1170.5 L824.0 1170.3 L826.0 1170.1" stroke-width="2.1"/>
<path d="M203.0 1209.3 L206.0 1209.1 L209.0 1209.0 L212.0 1208.8 L215.0 1208.7 L218.0 1208.5 L221.0 1208.3 L224.0 1208.2 L227.0 1208.0 L230.0 1207.8 L233.0 1207.6 L236.0 1207.4 L239.0 1207.3 L242.0 1207.1 L245.0 1206.9 L248.0 1206.7 L251.0 1206.5 L254.0 1206.3 L257.0 1206.1 L260.0 1205.9 L263.0 1205.7 L266.0 1205.5 L269.0 1205.2 L272.0 1205.0 L275.0 1204.8 L278.0 1204.6 L281.0 1204.4 L284.0 1204.2 L287.0 1203.9 L290.0 1203.7 L293.0 1203.5 L296.0 1203.3 L299.0 1203.0 L302.0 1202.8 L305.0 1202.6 L308.0 1202.4 L311.0 1202.1 L314.0 1201.9 L317.0 1201.7 L320.0 1201.4 L323.0 1201.2 L326.0 1200.9 L329.0 1200.7 L332.0 1200.5 L335.0 1200.2 L338.0 1200.0 L341.0 1199.8 L344.0 1199.5 L347.0 1199.3 L350.0 1199.1 L353.0 1198.8 L356.0 1198.6 L359.0 1198.3 L362.0 1198.1 L365.0 1197.9 L368.0 1197.6 L371.0 1197.4 L374.0 1197.2 L377.0 1196.9 L380.0 1196.7 L383.0 1196.5 L386.0 1196.3 L389.0 1196.0 L392.0 1195.8 L395.0 1195.6 L398.0 1195.3 L401.0 1195.1 L404.0 1194.9 L407.0 1194.7 L410.0 1194.5 L413.0 1194.2 L416.0 1194.0 L419.0 1193.8 L422.0 1193.6 L425.0 1193.4 L428.0 1193.2 L431.0 1193.0 L434.0 1192.8 L437.0 1192.6 L440.0 1192.4 L443.0 1192.2 L446.0 1192.0 L449.0 1191.8 L452.0 1191.6 L455.0 1191.4 L458.0 1191.2 L461.0 1191.0 L464.0 1190.8 L467.0 1190.6 L470.0 1190.4 L473.0 1190.2 L476.0 1190.0 L479.0 1189.8 L482.0 1189.6 L485.0 1189.4 L488.0 1189.3 L491.0 1189.1 L494.0 1188.9 L497.0 1188.7 L500.0 1188.5 L503.0 1188.3 L506.0 1188.2 L509.0 1188.0 L512.0 1187.8 L515.0 1187.6 L518.0 1187.5 L521.0 1187.3 L524.0 1187.1 L527.0 1186.9 L530.0 1186.8 L533.0 1186.6 L536.0 1186.4 L539.0 1186.3 L542.0 1186.1 L545.0 1185.9 L548.0 1185.8 L551.0 1185.6 L554.0 1185.4 L557.0 1185.3 L560.0 1185.1 L563.0 1184.9 L566.0 1184.8 L569.0 1184.6 L572.0 1184.4 L575.0 1184.3 L578.0 1184.1 L581.0 1184.0 L584.0 1183.8 L587.0 1183.6 L590.0 1183.5 L593.0 1183.3 L596.0 1183.2 L599.0 1183.0 L602.0 1182.9 L605.0 1182.7 L608.0 1182.5 L611.0 1182.4 L614.0 1182.2 L617.0 1182.1 L620.0 1181.9 L623.0 1181.8 L626.0 1181.6 L629.0 1181.5 L632.0 1181.3 L635.0 1181.2 L638.0 1181.0 L641.0 1180.9 L644.0 1180.7 L647.0 1180.6 L650.0 1180.4 L653.0 1180.3 L656.0 1180.1 L659.0 1180.0 L662.0 1179.8 L665.0 1179.7 L668.0 1179.5 L671.0 1179.4 L674.0 1179.2 L677.0 1179.1 L680.0 1178.9 L683.0 1178.8 L686.0 1178.6 L689.0 1178.5 L692.0 1178.3 L695.0 1178.2 L698.0 1178.0 L701.0 1177.9 L704.0 1177.7 L707.0 1177.6 L710.0 1177.4 L713.0 1177.3 L716.0 1177.1 L719.0 1177.0 L722.0 1176.8 L725.0 1176.7 L728.0 1176.5 L731.0 1176.4 L734.0 1176.2 L737.0 1176.1 L740.0 1175.9 L743.0 1175.8 L746.0 1175.6 L749.0 1175.5 L752.0 1175.3 L755.0 1175.1 L758.0 1175.0 L761.0 1174.8 L764.0 1174.7 L767.0 1174.5 L770.0 1174.4 L773.0 1174.2" stroke-width="2.1"/>
</g>
<g fill="#000">
<circle cx="202.5" cy="1076.5" r="11.5"/>
<circle cx="254.4" cy="1051.9" r="11.5"/>
<circle cx="306.3" cy="990.3" r="11.5"/>
<circle cx="358.2" cy="932.0" r="11.5"/>
<circle cx="461.9" cy="815.0" r="11.5"/>
<circle cx="565.7" cy="705.0" r="11.5"/>
<circle cx="669.5" cy="610.5" r="11.5"/>
<circle cx="773.2" cy="519.3" r="11.5"/>
<circle cx="877.0" cy="436.4" r="11.5"/>
<circle cx="980.8" cy="375.4" r="11.5"/>
<circle cx="1032.7" cy="325.3" r="11.5"/>
<circle cx="1084.5" cy="304.4" r="11.5"/>
<circle cx="1240.2" cy="193.3" r="11.5"/>
<path d="M200.5 1100.5 L204.5 1100.5 L214.0 1110.0 L214.0 1114.0 L204.5 1123.5 L200.5 1123.5 L191.0 1114.0 L191.0 1110.0Z"/>
<path d="M252.4 1035.0 L256.4 1035.0 L265.9 1044.5 L265.9 1048.5 L256.4 1058.0 L252.4 1058.0 L242.9 1048.5 L242.9 1044.5Z"/>
<path d="M304.3 973.4 L308.3 973.4 L317.8 982.9 L317.8 986.9 L308.3 996.4 L304.3 996.4 L294.8 986.9 L294.8 982.9Z"/>
<path d="M408.0 825.5 L412.0 825.5 L421.5 835.0 L421.5 839.0 L412.0 848.5 L408.0 848.5 L398.5 839.0 L398.5 835.0Z"/>
<path d="M511.8 704.7 L515.8 704.7 L525.3 714.2 L525.3 718.2 L515.8 727.7 L511.8 727.7 L502.3 718.2 L502.3 714.2Z"/>
<path d="M615.6 599.6 L619.6 599.6 L629.1 609.1 L629.1 613.1 L619.6 622.6 L615.6 622.6 L606.1 613.1 L606.1 609.1Z"/>
<path d="M667.5 501.5 L671.5 501.5 L681.0 511.0 L681.0 515.0 L671.5 524.5 L667.5 524.5 L658.0 515.0 L658.0 511.0Z"/>
<path d="M771.2 431.7 L775.2 431.7 L784.7 441.2 L784.7 445.2 L775.2 454.7 L771.2 454.7 L761.7 445.2 L761.7 441.2Z"/>
<path d="M200.5 1100.5L204.5 1100.5L214.0 1123.5L191.0 1123.5Z"/>
<path d="M252.4 1047.2L256.4 1047.2L265.9 1070.2L242.9 1070.2Z"/>
<path d="M304.3 959.8L308.3 959.8L317.8 982.8L294.8 982.8Z"/>
<path d="M408.0 808.0L412.0 808.0L421.5 831.0L398.5 831.0Z"/>
<path d="M511.8 687.8L515.8 687.8L525.3 710.8L502.3 710.8Z"/>
<path d="M615.6 564.4L619.6 564.4L629.1 587.4L606.1 587.4Z"/>
<path d="M719.4 446.9L723.4 446.9L732.9 469.9L709.9 469.9Z"/>
<path d="M771.2 404.0L775.2 404.0L784.7 427.0L761.7 427.0Z"/>
<path d="M823.1 386.6L827.1 386.6L836.6 409.6L813.6 409.6Z"/>
<rect x="191.0" y="1099.5" width="23.0" height="23.0"/>
<rect x="242.9" y="1049.1" width="23.0" height="23.0"/>
<rect x="294.8" y="971.5" width="23.0" height="23.0"/>
<rect x="398.5" y="824.5" width="23.0" height="23.0"/>
<rect x="502.3" y="678.9" width="23.0" height="23.0"/>
<rect x="606.1" y="552.3" width="23.0" height="23.0"/>
<rect x="658.0" y="490.9" width="23.0" height="23.0"/>
<rect x="709.9" y="460.9" width="23.0" height="23.0"/>
<rect x="761.7" y="453.9" width="23.0" height="23.0"/>
<circle cx="254.4" cy="1199.4" r="11.5"/>
<circle cx="306.3" cy="1196.3" r="11.5"/>
<circle cx="358.2" cy="1194.2" r="11.5"/>
<circle cx="461.9" cy="1190.2" r="11.5"/>
<circle cx="565.7" cy="1185.2" r="11.5"/>
<circle cx="669.5" cy="1182.0" r="11.5"/>
<circle cx="773.2" cy="1176.4" r="11.5"/>
<circle cx="877.0" cy="1171.2" r="11.5"/>
<circle cx="980.8" cy="1167.0" r="11.5"/>
<circle cx="1032.7" cy="1166.7" r="11.5"/>
<circle cx="1084.5" cy="1166.3" r="11.5"/>
<circle cx="1240.2" cy="1158.3" r="11.5"/>
<path d="M408.0 1179.8 L412.0 1179.8 L421.5 1189.3 L421.5 1193.3 L412.0 1202.8 L408.0 1202.8 L398.5 1193.3 L398.5 1189.3Z"/>
<path d="M511.8 1178.5 L515.8 1178.5 L525.3 1188.0 L525.3 1192.0 L515.8 1201.5 L511.8 1201.5 L502.3 1192.0 L502.3 1188.0Z"/>
<path d="M615.6 1176.0 L619.6 1176.0 L629.1 1185.5 L629.1 1189.5 L619.6 1199.0 L615.6 1199.0 L606.1 1189.5 L606.1 1185.5Z"/>
<path d="M719.4 1167.5 L723.4 1167.5 L732.9 1177.0 L732.9 1181.0 L723.4 1190.5 L719.4 1190.5 L709.9 1181.0 L709.9 1177.0Z"/>
<path d="M771.2 1160.8 L775.2 1160.8 L784.7 1170.3 L784.7 1174.3 L775.2 1183.8 L771.2 1183.8 L761.7 1174.3 L761.7 1170.3Z"/>
<path d="M252.4 1188.3L256.4 1188.3L265.9 1211.3L242.9 1211.3Z"/>
<path d="M304.3 1184.9L308.3 1184.9L317.8 1207.9L294.8 1207.9Z"/>
<path d="M408.0 1180.0L412.0 1180.0L421.5 1203.0L398.5 1203.0Z"/>
<path d="M511.8 1175.5L515.8 1175.5L525.3 1198.5L502.3 1198.5Z"/>
<path d="M615.6 1169.0L619.6 1169.0L629.1 1192.0L606.1 1192.0Z"/>
<path d="M719.4 1167.4L723.4 1167.4L732.9 1190.4L709.9 1190.4Z"/>
<path d="M771.2 1161.9L775.2 1161.9L784.7 1184.9L761.7 1184.9Z"/>
<path d="M823.1 1158.2L827.1 1158.2L836.6 1181.2L813.6 1181.2Z"/>
<rect x="191.0" y="1197.5" width="23.0" height="23.0"/>
<rect x="242.9" y="1154.5" width="23.0" height="23.0"/>
<rect x="294.8" y="1152.9" width="23.0" height="23.0"/>
<rect x="398.5" y="1139.8" width="23.0" height="23.0"/>
<rect x="502.3" y="1133.5" width="23.0" height="23.0"/>
<rect x="606.1" y="1123.5" width="23.0" height="23.0"/>
<rect x="658.0" y="1118.5" width="23.0" height="23.0"/>
<rect x="709.9" y="1113.0" width="23.0" height="23.0"/>
<rect x="761.7" y="1104.0" width="23.0" height="23.0"/>
</g>
<g stroke="#000" stroke-width="3" fill="none">
<path d="M575.9 536.4 L605.6 553"/>
<path d="M708.1 407.5 L770 449"/>
<path d="M830.7 386.2 L871.8 371.1"/>
<path d="M1251.1 178.7 L1291.5 164.1"/>
<path d="M413.5 1140 L454.9 1112.5"/>
<path d="M519.8 1185.6 L577.2 1118"/>
<path d="M828.5 1162 L861 1114.8"/>
<path d="M979.9 1149 L1020.9 1132.5"/>
</g>
<text transform="translate(151.5 1228.3) scale(0.94 1)" text-anchor="end" font-family="Liberation Serif, serif" font-size="64">0.<tspan dx="2.6">0</tspan></text>
<text transform="translate(151.5 1034.3) scale(0.94 1)" text-anchor="end" font-family="Liberation Serif, serif" font-size="64">0.<tspan dx="2.6">2</tspan></text>
<text transform="translate(151.5 840.3) scale(0.94 1)" text-anchor="end" font-family="Liberation Serif, serif" font-size="64">0.<tspan dx="2.6">4</tspan></text>
<text transform="translate(151.5 646.3) scale(0.94 1)" text-anchor="end" font-family="Liberation Serif, serif" font-size="64">0.<tspan dx="2.6">6</tspan></text>
<text transform="translate(151.5 452.3) scale(0.94 1)" text-anchor="end" font-family="Liberation Serif, serif" font-size="64">0.<tspan dx="2.6">8</tspan></text>
<text transform="translate(151.5 258.3) scale(0.94 1)" text-anchor="end" font-family="Liberation Serif, serif" font-size="64">1.<tspan dx="2.6">0</tspan></text>
<text transform="translate(151.5 64.3) scale(0.94 1)" text-anchor="end" font-family="Liberation Serif, serif" font-size="64">1.<tspan dx="2.6">2</tspan></text>
<text transform="translate(202.5 1300) scale(0.94 1)" text-anchor="middle" font-family="Liberation Serif, serif" font-size="64">0</text>
<text transform="translate(375.6 1300) scale(0.94 1)" text-anchor="middle" font-family="Liberation Serif, serif" font-size="64">100</text>
<text transform="translate(548.6 1300) scale(0.94 1)" text-anchor="middle" font-family="Liberation Serif, serif" font-size="64">200</text>
<text transform="translate(721.7 1300) scale(0.94 1)" text-anchor="middle" font-family="Liberation Serif, serif" font-size="64">300</text>
<text transform="translate(894.8 1300) scale(0.94 1)" text-anchor="middle" font-family="Liberation Serif, serif" font-size="64">400</text>
<text transform="translate(1067.9 1300) scale(0.94 1)" text-anchor="middle" font-family="Liberation Serif, serif" font-size="64">500</text>
<text transform="translate(1240.9 1300) scale(0.94 1)" text-anchor="middle" font-family="Liberation Serif, serif" font-size="64">600</text>
<text transform="translate(1414.0 1300) scale(0.94 1)" text-anchor="middle" font-family="Liberation Serif, serif" font-size="64">700</text>
<text transform="translate(661 1367) scale(0.942 1)" font-family="Liberation Serif, serif" font-size="65"><tspan font-style="italic">τ</tspan>, min</text>
<text transform="translate(60.5 882.6) rotate(-90) scale(0.945 1)" font-family="Liberation Serif, serif" font-size="65"><tspan font-style="italic">C</tspan>, mol-eq/L</text>
<text transform="translate(560 536.5) scale(0.93 1)" font-family="Liberation Serif, serif" font-size="55" font-style="italic">1</text>
<text transform="translate(691.5 409.6) scale(0.93 1)" font-family="Liberation Serif, serif" font-size="55" font-style="italic">2</text>
<text transform="translate(870 369.9) scale(0.93 1)" font-family="Liberation Serif, serif" font-size="55" font-style="italic">3</text>
<text transform="translate(1290.5 162) scale(0.93 1)" font-family="Liberation Serif, serif" font-size="55" font-style="italic">4</text>
<text transform="translate(463 1106.5) scale(0.93 1)" font-family="Liberation Serif, serif" font-size="55" font-style="italic">1<tspan dx="1.08">′</tspan></text>
<text transform="translate(582.5 1104.2) scale(0.93 1)" font-family="Liberation Serif, serif" font-size="55" font-style="italic">2<tspan dx="3.23">′</tspan></text>
<text transform="translate(865 1113) scale(0.93 1)" font-family="Liberation Serif, serif" font-size="55" font-style="italic">3<tspan dx="1.18">′</tspan></text>
<text transform="translate(1015 1133.2) scale(0.93 1)" font-family="Liberation Serif, serif" font-size="55" font-style="italic">4<tspan dx="1.08">′</tspan></text>
</g>
</svg></body></html>
